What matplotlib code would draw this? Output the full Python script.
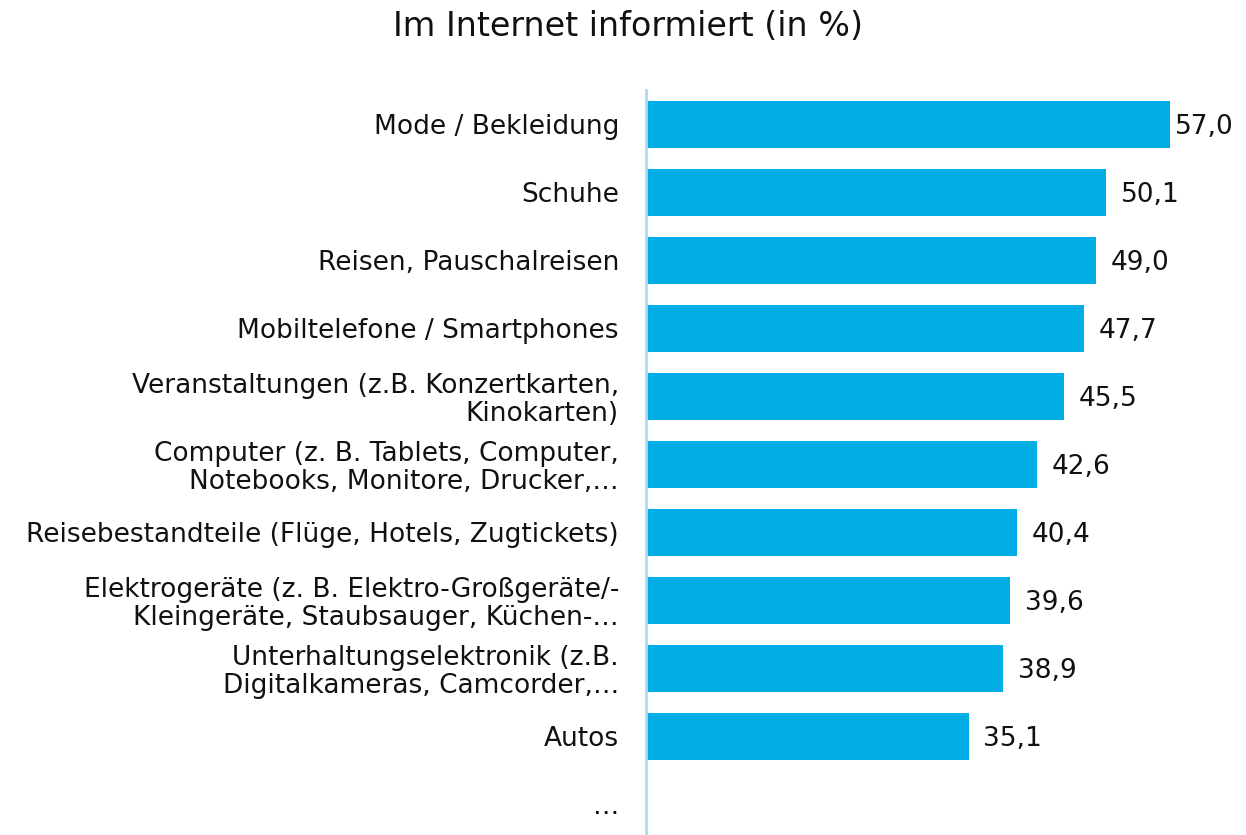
import matplotlib
matplotlib.use("Agg")
import matplotlib.pyplot as plt

categories = [
    "Mode / Bekleidung",
    "Schuhe",
    "Reisen, Pauschalreisen",
    "Mobiltelefone / Smartphones",
    "Veranstaltungen (z.B. Konzertkarten,\nKinokarten)",
    "Computer (z. B. Tablets, Computer,\nNotebooks, Monitore, Drucker,…",
    "Reisebestandteile (Flüge, Hotels, Zugtickets)",
    "Elektrogeräte (z. B. Elektro-Großgeräte/-\nKleingeräte, Staubsauger, Küchen-…",
    "Unterhaltungselektronik (z.B.\nDigitalkameras, Camcorder,…",
    "Autos",
    "…",
]
values = [57.0, 50.1, 49.0, 47.7, 45.5, 42.6, 40.4, 39.6, 38.9, 35.1, None]

plt.rcParams['font.family'] = ['DejaVu Sans']

fig = plt.figure(figsize=(12.46, 8.35), dpi=100)
ax = fig.add_axes([646 / 1246, 0, 600 / 1246, (835 - 90) / 835])

xmax = 65.3
pos = list(range(len(categories)))
bar_vals = [v if v is not None else 0 for v in values]
ax.barh(pos, bar_vals, height=0.69, color='#00AEE5')
for p, v in zip(pos, values):
    if v is not None:
        # labels sit a little right of the bar, pulled back if they would run off the edge
        x = min(v + 1.6, xmax - 7.7)
        ax.text(x, p + 0.03, f"{v:.1f}".replace('.', ','), va='center', ha='left',
                fontsize=19, color='#111111')

ax.set_ylim(10.449, -0.507)
ax.set_xlim(0, xmax)
ax.set_yticks(pos)
ax.set_yticklabels(categories, fontsize=19, color='#111111', linespacing=1.1)
ax.tick_params(axis='y', length=0, pad=19.5)
ax.set_xticks([])
for s in ['top', 'right', 'bottom']:
    ax.spines[s].set_visible(False)
ax.spines['left'].set_color('#A6DDF2')
ax.spines['left'].set_linewidth(2)

fig.text(628 / 1246, 1 - 27 / 835, "Im Internet informiert (in %)", ha='center', va='center',
         fontsize=24, color='#111111')

fig.savefig("out.png", dpi=100)
